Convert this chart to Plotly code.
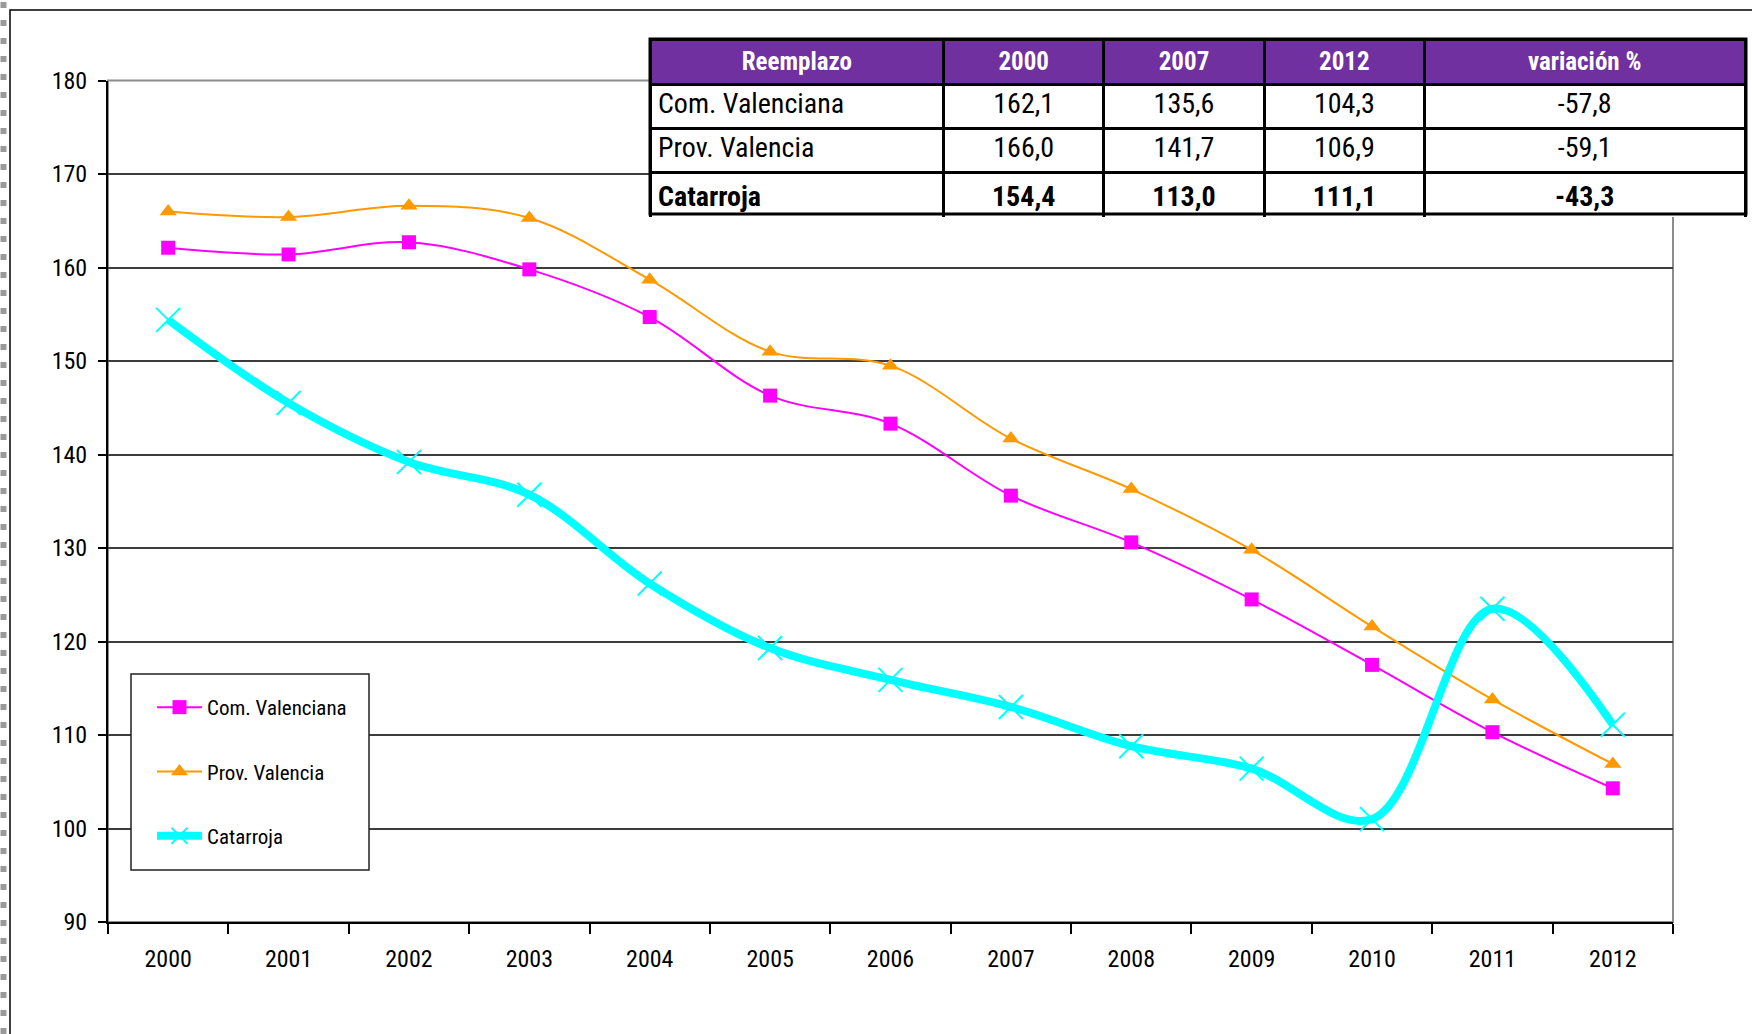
import plotly.graph_objects as go

# Data
years = ["2000", "2001", "2002", "2003", "2004", "2005", "2006",
         "2007", "2008", "2009", "2010", "2011", "2012"]
com_valenciana = [162.1, 161.4, 162.7, 159.8, 154.7, 146.3, 143.3,
                  135.6, 130.6, 124.5, 117.5, 110.3, 104.3]
prov_valencia = [166.0, 165.4, 166.6, 165.3, 158.7, 151.0, 149.5,
                 141.7, 136.3, 129.8, 121.6, 113.8, 106.9]
catarroja = [154.4, 145.5, 139.2, 135.7, 126.2, 119.3, 115.9,
             113.0, 108.8, 106.4, 101.0, 123.5, 111.1]

# Summary table
table_header = ["Reemplazo", "2000", "2007", "2012", "variación %"]
table_rows = ["Com. Valenciana", "Prov. Valencia", "Catarroja"]
table_2000 = ["162,1", "166,0", "154,4"]
table_2007 = ["135,6", "141,7", "113,0"]
table_2012 = ["104,3", "106,9", "111,1"]
table_var = ["-57,8", "-59,1", "-43,3"]

W, H = 1752, 1034
FONT = "Liberation Sans Narrow, Arial Narrow, Roboto Condensed, DejaVu Sans Condensed, sans-serif"


def px(x):
    return x / W


def py(y):
    return 1 - y / H


def bold_last(col):
    return col[:-1] + ["<b>" + col[-1] + "</b>"]


fig = go.Figure()

fig.add_trace(go.Scatter(
    x=years, y=com_valenciana, name="Com. Valenciana", legendgroup="a",
    mode="lines+markers", line=dict(color="#FF00FF", width=2, shape="spline", smoothing=1),
    marker=dict(symbol="square", size=14, color="#FF00FF")
))
fig.add_trace(go.Scatter(
    x=years, y=prov_valencia, name="Prov. Valencia", legendgroup="b",
    mode="lines+markers", line=dict(color="#FF9900", width=2, shape="spline", smoothing=1),
    marker=dict(symbol="triangle-up", size=15, color="#FF9900")
))
fig.add_trace(go.Scatter(
    x=years, y=catarroja, name="Catarroja", legendgroup="c",
    mode="lines+markers", line=dict(color="#00FFFF", width=8, shape="spline", smoothing=1),
    marker=dict(symbol="x-thin", size=24, color="#00FFFF", line=dict(color="#00FFFF", width=2))
))

fig.add_trace(go.Table(
    domain=dict(x=[px(650), px(1746)], y=[py(218), py(39)]),
    columnwidth=[294, 160, 161, 160, 321],
    header=dict(
        values=["<b>" + h + "</b>" for h in table_header],
        fill_color="#7030A0", line=dict(color="black", width=3),
        font=dict(family=FONT, size=25, color="white"), align="center", height=43
    ),
    cells=dict(
        values=[bold_last(table_rows), bold_last(table_2000), bold_last(table_2007),
                bold_last(table_2012), bold_last(table_var)],
        fill_color="white", line=dict(color="black", width=3),
        font=dict(family=FONT, size=28, color="black"),
        align=["left", "center", "center", "center", "center"], height=44
    )
))

fig.update_layout(
    width=W, height=H,
    margin=dict(l=0, r=0, t=0, b=0),
    paper_bgcolor="white", plot_bgcolor="white",
    font=dict(family=FONT, size=24, color="black"),
    showlegend=True,
    legend=dict(
        x=px(152), y=py(687), xanchor="left", yanchor="top",
        bgcolor="rgba(0,0,0,0)", borderwidth=0,
        font=dict(family=FONT, size=21, color="black"),
        tracegroupgap=34, itemwidth=45, traceorder="grouped"
    ),
    xaxis=dict(
        domain=[px(108), px(1673)], type="category", range=[-0.5, 12.5],
        tickson="boundaries", ticks="outside", ticklen=10, tickwidth=1.5, tickcolor="black",
        showline=True, linecolor="black", linewidth=2, showgrid=False, automargin=False,
        ticklabelstandoff=14, tickfont=dict(family=FONT, size=24)
    ),
    yaxis=dict(
        domain=[py(922), py(80.5)], range=[90, 180], dtick=10,
        ticks="outside", ticklen=8, tickwidth=1.5, tickcolor="black",
        showline=True, linecolor="black", linewidth=2, automargin=False,
        showgrid=True, gridcolor="#3c3c3c", gridwidth=1.5, zeroline=False,
        ticklabelstandoff=6, tickfont=dict(family=FONT, size=24)
    ),
    shapes=[
        # plot area border
        dict(type="rect", xref="paper", yref="paper", x0=px(108), x1=px(1673),
             y0=py(922), y1=py(80.5), line=dict(color="#8c8c8c", width=2), layer="below"),
        # legend box
        dict(type="rect", xref="paper", yref="paper", x0=px(131), x1=px(369),
             y0=py(870), y1=py(674), fillcolor="white",
             line=dict(color="#222222", width=1.5), layer="above"),
        # table outline
        dict(type="rect", xref="paper", yref="paper", x0=px(650), x1=px(1746),
             y0=py(214), y1=py(39), line=dict(color="black", width=3), layer="above"),
        # outer chart frame
        dict(type="rect", xref="paper", yref="paper", x0=px(10), x1=px(1770),
             y0=py(1050), y1=py(10), line=dict(color="black", width=1.5), layer="below"),
        # dashed selection marks on the left edge
        dict(type="line", xref="paper", yref="paper", x0=px(3.5), x1=px(3.5), y0=0, y1=1,
             line=dict(color="#9a9a9a", width=6, dash="6px,12px"), layer="below"),
    ],
)

fig.write_html("out.html", config={"displayModeBar": False},
               post_script="document.body.style.margin='0';")
